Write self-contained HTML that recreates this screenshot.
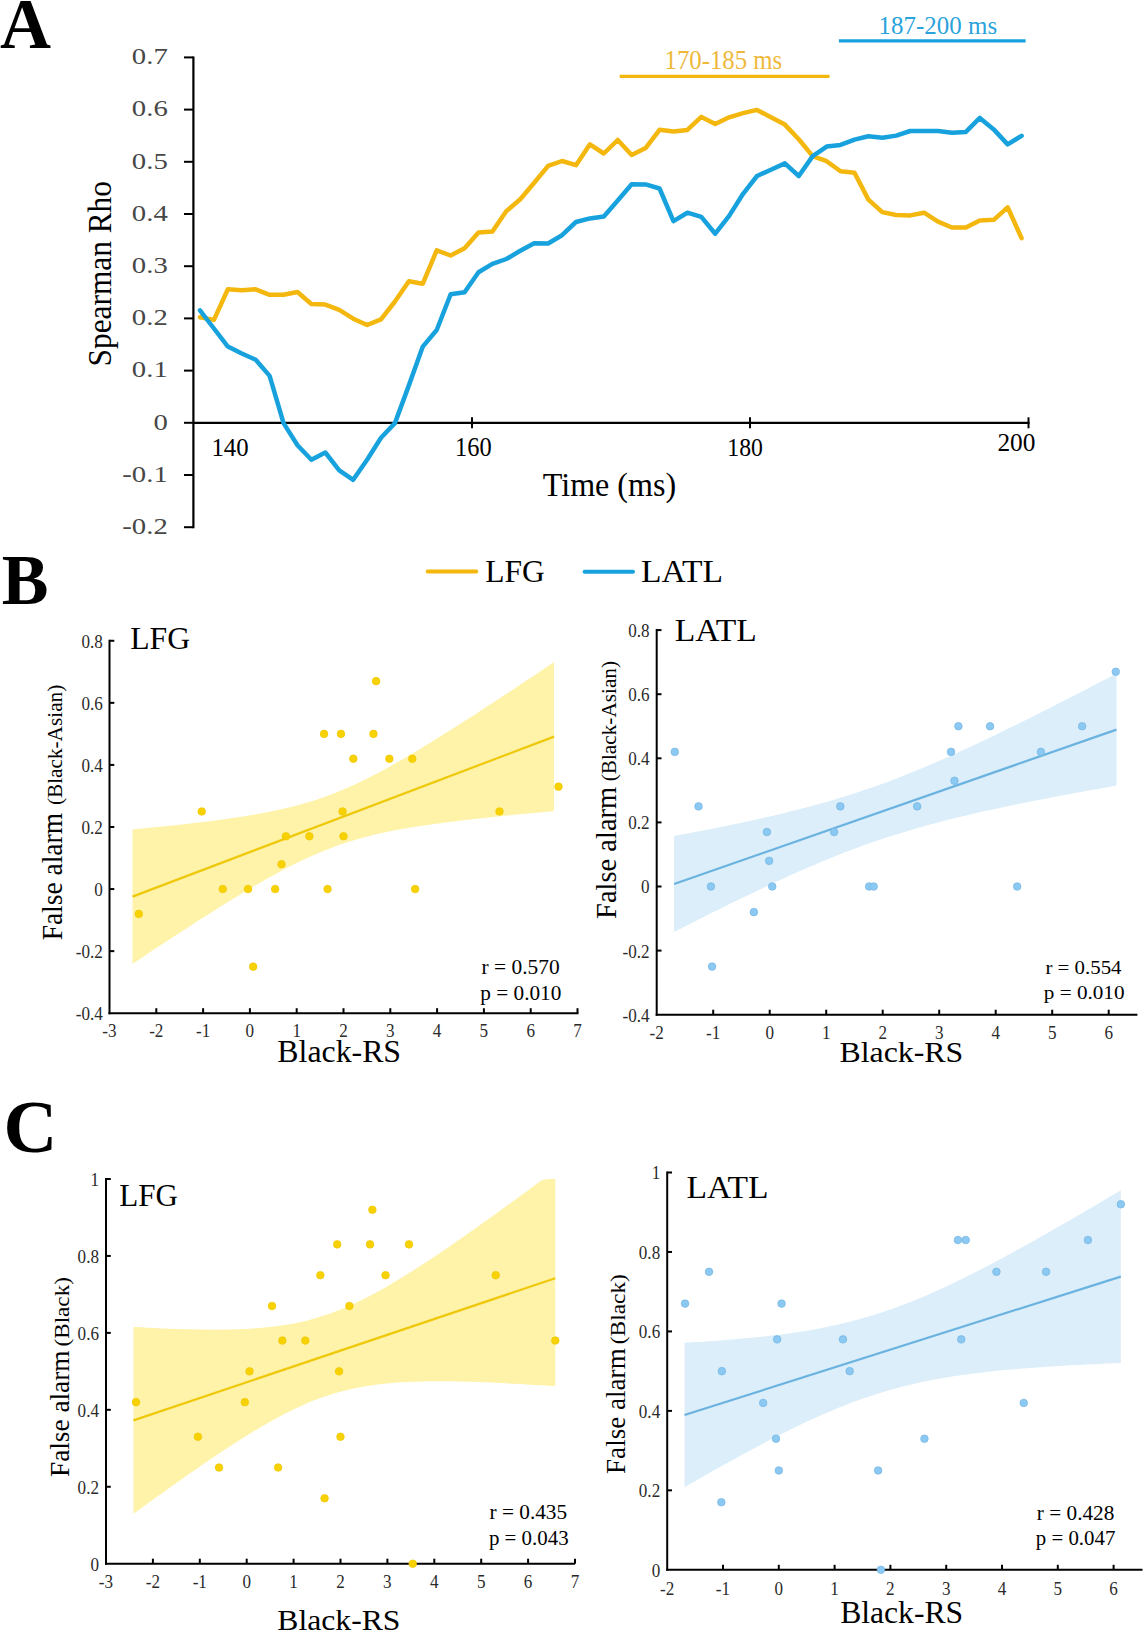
<!DOCTYPE html>
<html><head><meta charset="utf-8"><title>Figure</title>
<style>html,body{margin:0;padding:0;background:#fff;width:1144px;height:1632px;overflow:hidden}
svg{display:block} text{font-family:"Liberation Serif",serif}</style></head>
<body><svg width="1144" height="1632" viewBox="0 0 1144 1632">
<rect width="1144" height="1632" fill="#fff"/>
<text transform="translate(0.09,47.70) scale(0.9877,1)" font-size="71.52" font-weight="bold" fill="#000">A</text>
<line x1="193.40" y1="56.40" x2="193.40" y2="528.20" stroke="#000" stroke-width="2.2" stroke-linecap="butt"/>
<line x1="184.00" y1="527.20" x2="193.40" y2="527.20" stroke="#000" stroke-width="2.0" stroke-linecap="butt"/>
<line x1="184.00" y1="475.00" x2="193.40" y2="475.00" stroke="#000" stroke-width="2.0" stroke-linecap="butt"/>
<line x1="184.00" y1="422.80" x2="193.40" y2="422.80" stroke="#000" stroke-width="2.0" stroke-linecap="butt"/>
<line x1="184.00" y1="370.60" x2="193.40" y2="370.60" stroke="#000" stroke-width="2.0" stroke-linecap="butt"/>
<line x1="184.00" y1="318.40" x2="193.40" y2="318.40" stroke="#000" stroke-width="2.0" stroke-linecap="butt"/>
<line x1="184.00" y1="266.20" x2="193.40" y2="266.20" stroke="#000" stroke-width="2.0" stroke-linecap="butt"/>
<line x1="184.00" y1="214.00" x2="193.40" y2="214.00" stroke="#000" stroke-width="2.0" stroke-linecap="butt"/>
<line x1="184.00" y1="161.80" x2="193.40" y2="161.80" stroke="#000" stroke-width="2.0" stroke-linecap="butt"/>
<line x1="184.00" y1="109.60" x2="193.40" y2="109.60" stroke="#000" stroke-width="2.0" stroke-linecap="butt"/>
<line x1="184.00" y1="57.40" x2="193.40" y2="57.40" stroke="#000" stroke-width="2.0" stroke-linecap="butt"/>
<line x1="193.40" y1="422.80" x2="1029.50" y2="422.80" stroke="#000" stroke-width="2.2" stroke-linecap="butt"/>
<line x1="472.00" y1="417.30" x2="472.00" y2="428.30" stroke="#000" stroke-width="2.0" stroke-linecap="butt"/>
<line x1="750.00" y1="417.30" x2="750.00" y2="428.30" stroke="#000" stroke-width="2.0" stroke-linecap="butt"/>
<line x1="1028.50" y1="417.30" x2="1028.50" y2="428.30" stroke="#000" stroke-width="2.0" stroke-linecap="butt"/>
<text transform="translate(131.84,64.21) scale(1.24,1)" font-size="23.2" fill="#474747">0.7</text>
<text transform="translate(131.84,116.41) scale(1.24,1)" font-size="23.2" fill="#474747">0.6</text>
<text transform="translate(131.84,168.61) scale(1.24,1)" font-size="23.2" fill="#474747">0.5</text>
<text transform="translate(131.84,220.81) scale(1.24,1)" font-size="23.2" fill="#474747">0.4</text>
<text transform="translate(131.84,273.01) scale(1.24,1)" font-size="23.2" fill="#474747">0.3</text>
<text transform="translate(131.84,325.21) scale(1.24,1)" font-size="23.2" fill="#474747">0.2</text>
<text transform="translate(131.84,377.41) scale(1.24,1)" font-size="23.2" fill="#474747">0.1</text>
<text transform="translate(153.42,429.61) scale(1.24,1)" font-size="23.2" fill="#474747">0</text>
<text transform="translate(122.26,481.81) scale(1.24,1)" font-size="23.2" fill="#474747">-0.1</text>
<text transform="translate(122.26,534.01) scale(1.24,1)" font-size="23.2" fill="#474747">-0.2</text>
<text transform="translate(211.43,455.70) scale(0.9701,1)" font-size="25.56" fill="#000">140</text>
<text transform="translate(455.06,455.60) scale(0.9233,1)" font-size="26.47" fill="#000">160</text>
<text transform="translate(727.33,455.60) scale(0.9220,1)" font-size="25.71" fill="#000">180</text>
<text transform="translate(997.42,451.40) scale(0.9689,1)" font-size="26.17" fill="#000">200</text>
<text transform="translate(542.74,495.70) scale(0.9687,1)" font-size="33.13" fill="#000">Time (ms)</text>
<text transform="translate(110.50,366.42) rotate(-90) scale(0.9289,1)" font-size="33.74" fill="#000">Spearman Rho</text>
<line x1="619.70" y1="76.30" x2="829.50" y2="76.30" stroke="#f3b70e" stroke-width="3.2" stroke-linecap="butt"/>
<text transform="translate(664.53,69.30) scale(0.9407,1)" font-size="26.36" fill="#efb83a">170-185 ms</text>
<line x1="838.90" y1="40.90" x2="1025.60" y2="40.90" stroke="#17a2de" stroke-width="3.2" stroke-linecap="butt"/>
<text transform="translate(878.62,34.20) scale(1.0041,1)" font-size="24.85" fill="#2aa3dc">187-200 ms</text>
<polyline points="200.00,317.20 213.93,319.90 227.85,289.30 241.78,290.30 255.70,289.30 269.62,294.80 283.55,294.80 297.48,292.00 311.40,304.00 325.32,304.60 339.25,309.90 353.18,318.70 367.10,325.00 381.02,319.30 394.95,301.50 408.88,281.30 422.80,283.70 436.73,250.30 450.65,255.50 464.57,248.20 478.50,232.40 492.43,231.40 506.35,211.10 520.28,199.30 534.20,182.80 548.12,165.90 562.05,161.00 575.98,165.20 589.90,144.30 603.83,153.50 617.75,140.00 631.67,155.00 645.60,148.10 659.53,129.80 673.45,131.50 687.38,129.90 701.30,116.90 715.23,124.00 729.15,117.30 743.08,113.10 757.00,109.90 770.93,117.30 784.85,124.60 798.77,139.30 812.70,156.10 826.62,161.20 840.55,171.30 854.48,172.70 868.40,199.60 882.33,212.10 896.25,215.00 910.18,215.40 924.10,212.70 938.03,221.70 951.95,227.50 965.88,227.50 979.80,220.40 993.73,219.80 1007.65,207.30 1021.58,238.10" fill="none" stroke="#f3b70e" stroke-width="4.5" stroke-linejoin="round" stroke-linecap="round"/>
<polyline points="200.00,310.30 213.93,328.50 227.85,346.60 241.78,353.50 255.70,359.80 269.62,375.90 283.55,423.10 297.48,445.20 311.40,459.80 325.32,452.50 339.25,470.30 353.18,479.80 367.10,459.80 381.02,437.80 394.95,423.10 408.88,385.40 422.80,346.60 436.73,330.00 450.65,294.30 464.57,292.20 478.50,272.30 492.43,263.90 506.35,259.00 520.28,250.80 534.20,243.20 548.12,243.50 562.05,235.20 575.98,222.00 589.90,218.40 603.83,216.50 617.75,200.60 631.67,184.30 645.60,184.40 659.53,188.50 673.45,221.10 687.38,212.70 701.30,216.90 715.23,233.70 729.15,215.90 743.08,193.80 757.00,176.00 770.93,169.70 784.85,163.40 798.77,176.00 812.70,156.10 826.62,146.60 840.55,144.90 854.48,139.60 868.40,136.20 882.33,137.70 896.25,135.60 910.18,131.00 924.10,131.00 938.03,131.00 951.95,132.70 965.88,131.90 979.80,117.90 993.73,129.40 1007.65,144.40 1021.58,135.80" fill="none" stroke="#17a2de" stroke-width="4.5" stroke-linejoin="round" stroke-linecap="round"/>
<line x1="427.70" y1="571.60" x2="476.20" y2="571.60" stroke="#f3b70e" stroke-width="4" stroke-linecap="round"/>
<text transform="translate(485.13,581.50) scale(0.9947,1)" font-size="31.70" fill="#000">LFG</text>
<line x1="584.60" y1="571.70" x2="633.00" y2="571.70" stroke="#17a2de" stroke-width="4" stroke-linecap="round"/>
<text transform="translate(641.08,581.50) scale(1.0543,1)" font-size="31.82" fill="#000">LATL</text>
<text transform="translate(1.87,603.50) scale(0.9782,1)" font-size="71.60" font-weight="bold" fill="#000">B</text>
<line x1="109.50" y1="639.78" x2="109.50" y2="1014.20" stroke="#000" stroke-width="2.0" stroke-linecap="butt"/>
<line x1="108.50" y1="1013.20" x2="578.50" y2="1013.20" stroke="#000" stroke-width="2.0" stroke-linecap="butt"/>
<line x1="109.50" y1="951.13" x2="114.30" y2="951.13" stroke="#000" stroke-width="2.0" stroke-linecap="butt"/>
<line x1="109.50" y1="889.06" x2="114.30" y2="889.06" stroke="#000" stroke-width="2.0" stroke-linecap="butt"/>
<line x1="109.50" y1="826.99" x2="114.30" y2="826.99" stroke="#000" stroke-width="2.0" stroke-linecap="butt"/>
<line x1="109.50" y1="764.92" x2="114.30" y2="764.92" stroke="#000" stroke-width="2.0" stroke-linecap="butt"/>
<line x1="109.50" y1="702.85" x2="114.30" y2="702.85" stroke="#000" stroke-width="2.0" stroke-linecap="butt"/>
<line x1="109.50" y1="640.78" x2="114.30" y2="640.78" stroke="#000" stroke-width="2.0" stroke-linecap="butt"/>
<line x1="156.30" y1="1013.20" x2="156.30" y2="1008.20" stroke="#000" stroke-width="2.0" stroke-linecap="butt"/>
<line x1="203.10" y1="1013.20" x2="203.10" y2="1008.20" stroke="#000" stroke-width="2.0" stroke-linecap="butt"/>
<line x1="249.90" y1="1013.20" x2="249.90" y2="1008.20" stroke="#000" stroke-width="2.0" stroke-linecap="butt"/>
<line x1="296.70" y1="1013.20" x2="296.70" y2="1008.20" stroke="#000" stroke-width="2.0" stroke-linecap="butt"/>
<line x1="343.50" y1="1013.20" x2="343.50" y2="1008.20" stroke="#000" stroke-width="2.0" stroke-linecap="butt"/>
<line x1="390.30" y1="1013.20" x2="390.30" y2="1008.20" stroke="#000" stroke-width="2.0" stroke-linecap="butt"/>
<line x1="437.10" y1="1013.20" x2="437.10" y2="1008.20" stroke="#000" stroke-width="2.0" stroke-linecap="butt"/>
<line x1="483.90" y1="1013.20" x2="483.90" y2="1008.20" stroke="#000" stroke-width="2.0" stroke-linecap="butt"/>
<line x1="530.70" y1="1013.20" x2="530.70" y2="1008.20" stroke="#000" stroke-width="2.0" stroke-linecap="butt"/>
<line x1="577.50" y1="1013.20" x2="577.50" y2="1008.20" stroke="#000" stroke-width="2.0" stroke-linecap="butt"/>
<path d="M132.50,829.40 L139.53,828.74 L146.55,828.06 L153.58,827.37 L160.61,826.66 L167.63,825.94 L174.66,825.20 L181.69,824.44 L188.71,823.65 L195.74,822.85 L202.77,822.01 L209.79,821.15 L216.82,820.24 L223.85,819.30 L230.87,818.32 L237.90,817.28 L244.93,816.19 L251.95,815.04 L258.98,813.81 L266.01,812.51 L273.03,811.11 L280.06,809.61 L287.09,807.99 L294.11,806.25 L301.14,804.37 L308.17,802.33 L315.19,800.14 L322.22,797.77 L329.25,795.23 L336.27,792.51 L343.30,789.61 L350.33,786.53 L357.35,783.30 L364.38,779.90 L371.41,776.36 L378.43,772.69 L385.46,768.90 L392.49,765.01 L399.51,761.01 L406.54,756.94 L413.57,752.78 L420.59,748.57 L427.62,744.29 L434.65,739.96 L441.67,735.58 L448.70,731.16 L455.73,726.71 L462.75,722.22 L469.78,717.71 L476.81,713.17 L483.83,708.60 L490.86,704.02 L497.89,699.41 L504.91,694.79 L511.94,690.15 L518.97,685.50 L525.99,680.84 L533.02,676.16 L540.05,671.48 L547.07,666.78 L554.10,662.08 L554.10,811.12 L547.07,811.75 L540.05,812.39 L533.02,813.04 L525.99,813.69 L518.97,814.36 L511.94,815.05 L504.91,815.74 L497.89,816.45 L490.86,817.18 L483.83,817.93 L476.81,818.70 L469.78,819.49 L462.75,820.31 L455.73,821.16 L448.70,822.04 L441.67,822.95 L434.65,823.91 L427.62,824.91 L420.59,825.97 L413.57,827.08 L406.54,828.26 L399.51,829.52 L392.49,830.86 L385.46,832.30 L378.43,833.84 L371.41,835.50 L364.38,837.30 L357.35,839.24 L350.33,841.33 L343.30,843.59 L336.27,846.03 L329.25,848.64 L322.22,851.43 L315.19,854.40 L308.17,857.53 L301.14,860.83 L294.11,864.28 L287.09,867.87 L280.06,871.59 L273.03,875.42 L266.01,879.36 L258.98,883.39 L251.95,887.49 L244.93,891.67 L237.90,895.92 L230.87,900.21 L223.85,904.56 L216.82,908.96 L209.79,913.39 L202.77,917.85 L195.74,922.35 L188.71,926.88 L181.69,931.43 L174.66,936.00 L167.63,940.59 L160.61,945.21 L153.58,949.83 L146.55,954.48 L139.53,959.13 L132.50,963.80Z" fill="#fef3a8"/>
<line x1="132.50" y1="896.60" x2="554.10" y2="736.60" stroke="#efc80a" stroke-width="2.2" stroke-linecap="butt"/>
<circle cx="138.80" cy="913.89" r="3.8" fill="#f8d200" stroke="#efc600" stroke-width="0.7"/>
<circle cx="201.70" cy="811.47" r="3.8" fill="#f8d200" stroke="#efc600" stroke-width="0.7"/>
<circle cx="222.76" cy="889.06" r="3.8" fill="#f8d200" stroke="#efc600" stroke-width="0.7"/>
<circle cx="248.03" cy="889.06" r="3.8" fill="#f8d200" stroke="#efc600" stroke-width="0.7"/>
<circle cx="275.17" cy="889.06" r="3.8" fill="#f8d200" stroke="#efc600" stroke-width="0.7"/>
<circle cx="327.59" cy="889.06" r="3.8" fill="#f8d200" stroke="#efc600" stroke-width="0.7"/>
<circle cx="415.10" cy="889.06" r="3.8" fill="#f8d200" stroke="#efc600" stroke-width="0.7"/>
<circle cx="253.18" cy="966.65" r="3.8" fill="#f8d200" stroke="#efc600" stroke-width="0.7"/>
<circle cx="281.49" cy="864.23" r="3.8" fill="#f8d200" stroke="#efc600" stroke-width="0.7"/>
<circle cx="285.94" cy="836.30" r="3.8" fill="#f8d200" stroke="#efc600" stroke-width="0.7"/>
<circle cx="309.34" cy="836.30" r="3.8" fill="#f8d200" stroke="#efc600" stroke-width="0.7"/>
<circle cx="343.50" cy="836.30" r="3.8" fill="#f8d200" stroke="#efc600" stroke-width="0.7"/>
<circle cx="342.56" cy="811.47" r="3.8" fill="#f8d200" stroke="#efc600" stroke-width="0.7"/>
<circle cx="324.08" cy="733.88" r="3.8" fill="#f8d200" stroke="#efc600" stroke-width="0.7"/>
<circle cx="340.97" cy="733.88" r="3.8" fill="#f8d200" stroke="#efc600" stroke-width="0.7"/>
<circle cx="373.45" cy="733.88" r="3.8" fill="#f8d200" stroke="#efc600" stroke-width="0.7"/>
<circle cx="376.12" cy="681.13" r="3.8" fill="#f8d200" stroke="#efc600" stroke-width="0.7"/>
<circle cx="353.33" cy="758.71" r="3.8" fill="#f8d200" stroke="#efc600" stroke-width="0.7"/>
<circle cx="389.36" cy="758.71" r="3.8" fill="#f8d200" stroke="#efc600" stroke-width="0.7"/>
<circle cx="412.30" cy="758.71" r="3.8" fill="#f8d200" stroke="#efc600" stroke-width="0.7"/>
<circle cx="558.50" cy="786.64" r="3.8" fill="#f8d200" stroke="#efc600" stroke-width="0.7"/>
<circle cx="499.48" cy="811.47" r="3.8" fill="#f8d200" stroke="#efc600" stroke-width="0.7"/>
<text transform="translate(75.71,1020.12) scale(0.93,1)" font-size="18.4" fill="#2a2a2a">-0.4</text>
<text transform="translate(75.71,958.05) scale(0.93,1)" font-size="18.4" fill="#2a2a2a">-0.2</text>
<text transform="translate(94.24,895.98) scale(0.93,1)" font-size="18.4" fill="#2a2a2a">0</text>
<text transform="translate(81.41,833.91) scale(0.93,1)" font-size="18.4" fill="#2a2a2a">0.2</text>
<text transform="translate(81.41,771.84) scale(0.93,1)" font-size="18.4" fill="#2a2a2a">0.4</text>
<text transform="translate(81.41,709.77) scale(0.93,1)" font-size="18.4" fill="#2a2a2a">0.6</text>
<text transform="translate(81.41,647.70) scale(0.93,1)" font-size="18.4" fill="#2a2a2a">0.8</text>
<text transform="translate(102.37,1037.00) scale(0.93,1)" font-size="18.4" fill="#2a2a2a">-3</text>
<text transform="translate(149.17,1037.00) scale(0.93,1)" font-size="18.4" fill="#2a2a2a">-2</text>
<text transform="translate(195.97,1037.00) scale(0.93,1)" font-size="18.4" fill="#2a2a2a">-1</text>
<text transform="translate(245.62,1037.00) scale(0.93,1)" font-size="18.4" fill="#2a2a2a">0</text>
<text transform="translate(292.42,1037.00) scale(0.93,1)" font-size="18.4" fill="#2a2a2a">1</text>
<text transform="translate(339.22,1037.00) scale(0.93,1)" font-size="18.4" fill="#2a2a2a">2</text>
<text transform="translate(386.02,1037.00) scale(0.93,1)" font-size="18.4" fill="#2a2a2a">3</text>
<text transform="translate(432.82,1037.00) scale(0.93,1)" font-size="18.4" fill="#2a2a2a">4</text>
<text transform="translate(479.62,1037.00) scale(0.93,1)" font-size="18.4" fill="#2a2a2a">5</text>
<text transform="translate(526.42,1037.00) scale(0.93,1)" font-size="18.4" fill="#2a2a2a">6</text>
<text transform="translate(573.22,1037.00) scale(0.93,1)" font-size="18.4" fill="#2a2a2a">7</text>
<text transform="translate(130.13,649.40) scale(1.0112,1)" font-size="31.40" fill="#000">LFG</text>
<text transform="translate(481.57,974.30) scale(1.0175,1)" font-size="21.05" fill="#000">r = 0.570</text>
<text transform="translate(480.28,999.90) scale(1.0321,1)" font-size="20.60" fill="#000">p = 0.010</text>
<text transform="translate(277.32,1061.50) scale(1.0198,1)" font-size="31.22" fill="#000">Black-RS</text>
<text transform="translate(61.80,940.36) rotate(-90) scale(0.9377,1)" font-size="29.31" fill="#000">False alarm</text>
<text transform="translate(61.80,805.10) rotate(-90) scale(1.0368,1)" font-size="20.50" fill="#000">(Black-Asian)</text>
<line x1="656.70" y1="629.10" x2="656.70" y2="1015.70" stroke="#000" stroke-width="2.0" stroke-linecap="butt"/>
<line x1="655.70" y1="1014.70" x2="1137.40" y2="1014.70" stroke="#000" stroke-width="2.0" stroke-linecap="butt"/>
<line x1="656.70" y1="950.60" x2="661.50" y2="950.60" stroke="#000" stroke-width="2.0" stroke-linecap="butt"/>
<line x1="656.70" y1="886.50" x2="661.50" y2="886.50" stroke="#000" stroke-width="2.0" stroke-linecap="butt"/>
<line x1="656.70" y1="822.40" x2="661.50" y2="822.40" stroke="#000" stroke-width="2.0" stroke-linecap="butt"/>
<line x1="656.70" y1="758.30" x2="661.50" y2="758.30" stroke="#000" stroke-width="2.0" stroke-linecap="butt"/>
<line x1="656.70" y1="694.20" x2="661.50" y2="694.20" stroke="#000" stroke-width="2.0" stroke-linecap="butt"/>
<line x1="656.70" y1="630.10" x2="661.50" y2="630.10" stroke="#000" stroke-width="2.0" stroke-linecap="butt"/>
<line x1="713.20" y1="1014.70" x2="713.20" y2="1009.70" stroke="#000" stroke-width="2.0" stroke-linecap="butt"/>
<line x1="769.70" y1="1014.70" x2="769.70" y2="1009.70" stroke="#000" stroke-width="2.0" stroke-linecap="butt"/>
<line x1="826.20" y1="1014.70" x2="826.20" y2="1009.70" stroke="#000" stroke-width="2.0" stroke-linecap="butt"/>
<line x1="882.70" y1="1014.70" x2="882.70" y2="1009.70" stroke="#000" stroke-width="2.0" stroke-linecap="butt"/>
<line x1="939.20" y1="1014.70" x2="939.20" y2="1009.70" stroke="#000" stroke-width="2.0" stroke-linecap="butt"/>
<line x1="995.70" y1="1014.70" x2="995.70" y2="1009.70" stroke="#000" stroke-width="2.0" stroke-linecap="butt"/>
<line x1="1052.20" y1="1014.70" x2="1052.20" y2="1009.70" stroke="#000" stroke-width="2.0" stroke-linecap="butt"/>
<line x1="1108.70" y1="1014.70" x2="1108.70" y2="1009.70" stroke="#000" stroke-width="2.0" stroke-linecap="butt"/>
<path d="M674.10,835.99 L681.47,834.62 L688.85,833.23 L696.22,831.82 L703.59,830.39 L710.97,828.94 L718.34,827.47 L725.71,825.98 L733.09,824.46 L740.46,822.91 L747.83,821.33 L755.21,819.72 L762.58,818.08 L769.95,816.40 L777.33,814.67 L784.70,812.91 L792.07,811.09 L799.45,809.23 L806.82,807.31 L814.19,805.33 L821.57,803.29 L828.94,801.18 L836.31,799.01 L843.69,796.76 L851.06,794.44 L858.43,792.05 L865.81,789.57 L873.18,787.02 L880.55,784.39 L887.93,781.69 L895.30,778.90 L902.67,776.04 L910.05,773.11 L917.42,770.11 L924.79,767.04 L932.17,763.91 L939.54,760.71 L946.91,757.46 L954.29,754.16 L961.66,750.81 L969.03,747.41 L976.41,743.97 L983.78,740.49 L991.15,736.97 L998.53,733.42 L1005.90,729.83 L1013.27,726.22 L1020.65,722.58 L1028.02,718.92 L1035.39,715.23 L1042.77,711.53 L1050.14,707.80 L1057.51,704.05 L1064.89,700.29 L1072.26,696.52 L1079.63,692.73 L1087.01,688.92 L1094.38,685.11 L1101.75,681.28 L1109.13,677.44 L1116.50,673.59 L1116.50,785.61 L1109.13,786.91 L1101.75,788.22 L1094.38,789.53 L1087.01,790.86 L1079.63,792.21 L1072.26,793.56 L1064.89,794.93 L1057.51,796.32 L1050.14,797.72 L1042.77,799.14 L1035.39,800.58 L1028.02,802.04 L1020.65,803.52 L1013.27,805.03 L1005.90,806.57 L998.53,808.13 L991.15,809.73 L983.78,811.35 L976.41,813.02 L969.03,814.72 L961.66,816.47 L954.29,818.27 L946.91,820.11 L939.54,822.01 L932.17,823.96 L924.79,825.97 L917.42,828.05 L910.05,830.20 L902.67,832.41 L895.30,834.70 L887.93,837.06 L880.55,839.50 L873.18,842.02 L865.81,844.61 L858.43,847.29 L851.06,850.04 L843.69,852.87 L836.31,855.77 L828.94,858.74 L821.57,861.78 L814.19,864.89 L806.82,868.05 L799.45,871.28 L792.07,874.56 L784.70,877.89 L777.33,881.27 L769.95,884.70 L762.58,888.16 L755.21,891.66 L747.83,895.20 L740.46,898.77 L733.09,902.37 L725.71,906.00 L718.34,909.65 L710.97,913.33 L703.59,917.03 L696.22,920.74 L688.85,924.48 L681.47,928.24 L674.10,932.01Z" fill="#dbeefa"/>
<line x1="674.10" y1="884.00" x2="1116.50" y2="729.60" stroke="#6ab2e0" stroke-width="2.2" stroke-linecap="butt"/>
<circle cx="674.78" cy="751.89" r="3.8" fill="#8bc9f2" stroke="#74b4e2" stroke-width="0.7"/>
<circle cx="698.51" cy="806.38" r="3.8" fill="#8bc9f2" stroke="#74b4e2" stroke-width="0.7"/>
<circle cx="766.88" cy="832.01" r="3.8" fill="#8bc9f2" stroke="#74b4e2" stroke-width="0.7"/>
<circle cx="840.33" cy="806.38" r="3.8" fill="#8bc9f2" stroke="#74b4e2" stroke-width="0.7"/>
<circle cx="834.11" cy="832.01" r="3.8" fill="#8bc9f2" stroke="#74b4e2" stroke-width="0.7"/>
<circle cx="1115.76" cy="671.77" r="3.8" fill="#8bc9f2" stroke="#74b4e2" stroke-width="0.7"/>
<circle cx="958.41" cy="726.25" r="3.8" fill="#8bc9f2" stroke="#74b4e2" stroke-width="0.7"/>
<circle cx="990.05" cy="726.25" r="3.8" fill="#8bc9f2" stroke="#74b4e2" stroke-width="0.7"/>
<circle cx="1082.14" cy="726.25" r="3.8" fill="#8bc9f2" stroke="#74b4e2" stroke-width="0.7"/>
<circle cx="951.07" cy="751.89" r="3.8" fill="#8bc9f2" stroke="#74b4e2" stroke-width="0.7"/>
<circle cx="1040.90" cy="751.89" r="3.8" fill="#8bc9f2" stroke="#74b4e2" stroke-width="0.7"/>
<circle cx="954.46" cy="780.74" r="3.8" fill="#8bc9f2" stroke="#74b4e2" stroke-width="0.7"/>
<circle cx="917.16" cy="806.38" r="3.8" fill="#8bc9f2" stroke="#74b4e2" stroke-width="0.7"/>
<circle cx="769.13" cy="860.86" r="3.8" fill="#8bc9f2" stroke="#74b4e2" stroke-width="0.7"/>
<circle cx="710.94" cy="886.50" r="3.8" fill="#8bc9f2" stroke="#74b4e2" stroke-width="0.7"/>
<circle cx="772.24" cy="886.50" r="3.8" fill="#8bc9f2" stroke="#74b4e2" stroke-width="0.7"/>
<circle cx="869.14" cy="886.50" r="3.8" fill="#8bc9f2" stroke="#74b4e2" stroke-width="0.7"/>
<circle cx="873.66" cy="886.50" r="3.8" fill="#8bc9f2" stroke="#74b4e2" stroke-width="0.7"/>
<circle cx="753.88" cy="912.14" r="3.8" fill="#8bc9f2" stroke="#74b4e2" stroke-width="0.7"/>
<circle cx="712.07" cy="966.62" r="3.8" fill="#8bc9f2" stroke="#74b4e2" stroke-width="0.7"/>
<circle cx="1017.17" cy="886.50" r="3.8" fill="#8bc9f2" stroke="#74b4e2" stroke-width="0.7"/>
<text transform="translate(622.51,1021.62) scale(0.93,1)" font-size="18.4" fill="#2a2a2a">-0.4</text>
<text transform="translate(622.51,957.52) scale(0.93,1)" font-size="18.4" fill="#2a2a2a">-0.2</text>
<text transform="translate(641.04,893.42) scale(0.93,1)" font-size="18.4" fill="#2a2a2a">0</text>
<text transform="translate(628.21,829.32) scale(0.93,1)" font-size="18.4" fill="#2a2a2a">0.2</text>
<text transform="translate(628.21,765.22) scale(0.93,1)" font-size="18.4" fill="#2a2a2a">0.4</text>
<text transform="translate(628.21,701.12) scale(0.93,1)" font-size="18.4" fill="#2a2a2a">0.6</text>
<text transform="translate(628.21,637.02) scale(0.93,1)" font-size="18.4" fill="#2a2a2a">0.8</text>
<text transform="translate(649.57,1038.80) scale(0.93,1)" font-size="18.4" fill="#2a2a2a">-2</text>
<text transform="translate(706.07,1038.80) scale(0.93,1)" font-size="18.4" fill="#2a2a2a">-1</text>
<text transform="translate(765.42,1038.80) scale(0.93,1)" font-size="18.4" fill="#2a2a2a">0</text>
<text transform="translate(821.92,1038.80) scale(0.93,1)" font-size="18.4" fill="#2a2a2a">1</text>
<text transform="translate(878.42,1038.80) scale(0.93,1)" font-size="18.4" fill="#2a2a2a">2</text>
<text transform="translate(934.92,1038.80) scale(0.93,1)" font-size="18.4" fill="#2a2a2a">3</text>
<text transform="translate(991.42,1038.80) scale(0.93,1)" font-size="18.4" fill="#2a2a2a">4</text>
<text transform="translate(1047.92,1038.80) scale(0.93,1)" font-size="18.4" fill="#2a2a2a">5</text>
<text transform="translate(1104.42,1038.80) scale(0.93,1)" font-size="18.4" fill="#2a2a2a">6</text>
<text transform="translate(674.78,640.90) scale(1.0920,1)" font-size="30.76" fill="#000">LATL</text>
<text transform="translate(1045.38,973.90) scale(1.1679,1)" font-size="17.89" fill="#000">r = 0.554</text>
<text transform="translate(1043.78,999.40) scale(1.1005,1)" font-size="19.25" fill="#000">p = 0.010</text>
<text transform="translate(839.42,1061.50) scale(1.0538,1)" font-size="30.22" fill="#000">Black-RS</text>
<text transform="translate(616.40,918.88) rotate(-90) scale(0.9873,1)" font-size="28.85" fill="#000">False alarm</text>
<text transform="translate(616.40,781.30) rotate(-90) scale(1.0368,1)" font-size="20.50" fill="#000">(Black-Asian)</text>
<text transform="translate(3.56,1151.60) scale(1.0132,1)" font-size="73.51" font-weight="bold" fill="#000">C</text>
<line x1="106.00" y1="1178.00" x2="106.00" y2="1564.70" stroke="#000" stroke-width="2.0" stroke-linecap="butt"/>
<line x1="105.00" y1="1563.70" x2="575.00" y2="1563.70" stroke="#000" stroke-width="2.0" stroke-linecap="butt"/>
<line x1="106.00" y1="1486.76" x2="110.80" y2="1486.76" stroke="#000" stroke-width="2.0" stroke-linecap="butt"/>
<line x1="106.00" y1="1409.82" x2="110.80" y2="1409.82" stroke="#000" stroke-width="2.0" stroke-linecap="butt"/>
<line x1="106.00" y1="1332.88" x2="110.80" y2="1332.88" stroke="#000" stroke-width="2.0" stroke-linecap="butt"/>
<line x1="106.00" y1="1255.94" x2="110.80" y2="1255.94" stroke="#000" stroke-width="2.0" stroke-linecap="butt"/>
<line x1="106.00" y1="1179.00" x2="110.80" y2="1179.00" stroke="#000" stroke-width="2.0" stroke-linecap="butt"/>
<line x1="152.90" y1="1563.70" x2="152.90" y2="1558.70" stroke="#000" stroke-width="2.0" stroke-linecap="butt"/>
<line x1="199.80" y1="1563.70" x2="199.80" y2="1558.70" stroke="#000" stroke-width="2.0" stroke-linecap="butt"/>
<line x1="246.70" y1="1563.70" x2="246.70" y2="1558.70" stroke="#000" stroke-width="2.0" stroke-linecap="butt"/>
<line x1="293.60" y1="1563.70" x2="293.60" y2="1558.70" stroke="#000" stroke-width="2.0" stroke-linecap="butt"/>
<line x1="340.50" y1="1563.70" x2="340.50" y2="1558.70" stroke="#000" stroke-width="2.0" stroke-linecap="butt"/>
<line x1="387.40" y1="1563.70" x2="387.40" y2="1558.70" stroke="#000" stroke-width="2.0" stroke-linecap="butt"/>
<line x1="434.30" y1="1563.70" x2="434.30" y2="1558.70" stroke="#000" stroke-width="2.0" stroke-linecap="butt"/>
<line x1="481.20" y1="1563.70" x2="481.20" y2="1558.70" stroke="#000" stroke-width="2.0" stroke-linecap="butt"/>
<line x1="528.10" y1="1563.70" x2="528.10" y2="1558.70" stroke="#000" stroke-width="2.0" stroke-linecap="butt"/>
<line x1="575.00" y1="1563.70" x2="575.00" y2="1558.70" stroke="#000" stroke-width="2.0" stroke-linecap="butt"/>
<path d="M133.50,1326.97 L140.53,1327.35 L147.56,1327.72 L154.59,1328.06 L161.62,1328.38 L168.65,1328.68 L175.68,1328.94 L182.71,1329.16 L189.74,1329.35 L196.77,1329.50 L203.80,1329.60 L210.83,1329.66 L217.86,1329.65 L224.89,1329.58 L231.92,1329.43 L238.95,1329.21 L245.98,1328.90 L253.01,1328.48 L260.04,1327.96 L267.07,1327.30 L274.10,1326.51 L281.13,1325.56 L288.16,1324.44 L295.19,1323.14 L302.22,1321.64 L309.25,1319.93 L316.28,1317.99 L323.31,1315.83 L330.34,1313.44 L337.37,1310.81 L344.40,1307.96 L351.43,1304.89 L358.46,1301.61 L365.49,1298.13 L372.52,1294.47 L379.55,1290.65 L386.58,1286.67 L393.61,1282.56 L400.64,1278.32 L407.67,1273.97 L414.70,1269.53 L421.73,1264.99 L428.76,1260.38 L435.79,1255.70 L442.82,1250.95 L449.85,1246.15 L456.88,1241.30 L463.91,1236.40 L470.94,1231.46 L477.97,1226.49 L485.00,1221.48 L492.03,1216.44 L499.06,1211.38 L506.09,1206.29 L513.12,1201.18 L520.15,1196.04 L527.18,1190.89 L534.21,1185.73 L541.24,1180.54 L548.27,1179.00 L555.30,1179.00 L555.30,1386.27 L548.27,1385.80 L541.24,1385.34 L534.21,1384.89 L527.18,1384.47 L520.15,1384.06 L513.12,1383.66 L506.09,1383.29 L499.06,1382.94 L492.03,1382.62 L485.00,1382.32 L477.97,1382.05 L470.94,1381.82 L463.91,1381.62 L456.88,1381.46 L449.85,1381.35 L442.82,1381.29 L435.79,1381.28 L428.76,1381.34 L421.73,1381.47 L414.70,1381.67 L407.67,1381.97 L400.64,1382.36 L393.61,1382.86 L386.58,1383.49 L379.55,1384.25 L372.52,1385.17 L365.49,1386.25 L358.46,1387.51 L351.43,1388.97 L344.40,1390.64 L337.37,1392.53 L330.34,1394.64 L323.31,1396.99 L316.28,1399.57 L309.25,1402.37 L302.22,1405.40 L295.19,1408.64 L288.16,1412.08 L281.13,1415.70 L274.10,1419.49 L267.07,1423.44 L260.04,1427.52 L253.01,1431.74 L245.98,1436.06 L238.95,1440.49 L231.92,1445.01 L224.89,1449.60 L217.86,1454.27 L210.83,1459.00 L203.80,1463.80 L196.77,1468.64 L189.74,1473.53 L182.71,1478.46 L175.68,1483.42 L168.65,1488.42 L161.62,1493.46 L154.59,1498.52 L147.56,1503.60 L140.53,1508.71 L133.50,1513.83Z" fill="#fef3a8"/>
<line x1="133.50" y1="1420.40" x2="555.30" y2="1278.20" stroke="#efc80a" stroke-width="2.2" stroke-linecap="butt"/>
<circle cx="337.22" cy="1244.40" r="3.8" fill="#f8d200" stroke="#efc600" stroke-width="0.7"/>
<circle cx="320.33" cy="1275.18" r="3.8" fill="#f8d200" stroke="#efc600" stroke-width="0.7"/>
<circle cx="272.03" cy="1305.95" r="3.8" fill="#f8d200" stroke="#efc600" stroke-width="0.7"/>
<circle cx="282.34" cy="1340.57" r="3.8" fill="#f8d200" stroke="#efc600" stroke-width="0.7"/>
<circle cx="305.32" cy="1340.57" r="3.8" fill="#f8d200" stroke="#efc600" stroke-width="0.7"/>
<circle cx="249.51" cy="1371.35" r="3.8" fill="#f8d200" stroke="#efc600" stroke-width="0.7"/>
<circle cx="339.09" cy="1371.35" r="3.8" fill="#f8d200" stroke="#efc600" stroke-width="0.7"/>
<circle cx="372.39" cy="1209.78" r="3.8" fill="#f8d200" stroke="#efc600" stroke-width="0.7"/>
<circle cx="370.05" cy="1244.40" r="3.8" fill="#f8d200" stroke="#efc600" stroke-width="0.7"/>
<circle cx="408.97" cy="1244.40" r="3.8" fill="#f8d200" stroke="#efc600" stroke-width="0.7"/>
<circle cx="385.52" cy="1275.18" r="3.8" fill="#f8d200" stroke="#efc600" stroke-width="0.7"/>
<circle cx="495.74" cy="1275.18" r="3.8" fill="#f8d200" stroke="#efc600" stroke-width="0.7"/>
<circle cx="349.41" cy="1305.95" r="3.8" fill="#f8d200" stroke="#efc600" stroke-width="0.7"/>
<circle cx="555.30" cy="1340.57" r="3.8" fill="#f8d200" stroke="#efc600" stroke-width="0.7"/>
<circle cx="136.02" cy="1402.13" r="3.8" fill="#f8d200" stroke="#efc600" stroke-width="0.7"/>
<circle cx="244.82" cy="1402.13" r="3.8" fill="#f8d200" stroke="#efc600" stroke-width="0.7"/>
<circle cx="197.92" cy="1436.75" r="3.8" fill="#f8d200" stroke="#efc600" stroke-width="0.7"/>
<circle cx="340.50" cy="1436.75" r="3.8" fill="#f8d200" stroke="#efc600" stroke-width="0.7"/>
<circle cx="219.03" cy="1467.53" r="3.8" fill="#f8d200" stroke="#efc600" stroke-width="0.7"/>
<circle cx="278.12" cy="1467.53" r="3.8" fill="#f8d200" stroke="#efc600" stroke-width="0.7"/>
<circle cx="324.55" cy="1498.30" r="3.8" fill="#f8d200" stroke="#efc600" stroke-width="0.7"/>
<circle cx="412.73" cy="1563.70" r="3.8" fill="#f8d200" stroke="#efc600" stroke-width="0.7"/>
<text transform="translate(90.44,1570.62) scale(0.93,1)" font-size="18.4" fill="#2a2a2a">0</text>
<text transform="translate(77.61,1493.68) scale(0.93,1)" font-size="18.4" fill="#2a2a2a">0.2</text>
<text transform="translate(77.61,1416.74) scale(0.93,1)" font-size="18.4" fill="#2a2a2a">0.4</text>
<text transform="translate(77.61,1339.80) scale(0.93,1)" font-size="18.4" fill="#2a2a2a">0.6</text>
<text transform="translate(77.61,1262.86) scale(0.93,1)" font-size="18.4" fill="#2a2a2a">0.8</text>
<text transform="translate(90.44,1185.92) scale(0.93,1)" font-size="18.4" fill="#2a2a2a">1</text>
<text transform="translate(98.87,1587.90) scale(0.93,1)" font-size="18.4" fill="#2a2a2a">-3</text>
<text transform="translate(145.77,1587.90) scale(0.93,1)" font-size="18.4" fill="#2a2a2a">-2</text>
<text transform="translate(192.67,1587.90) scale(0.93,1)" font-size="18.4" fill="#2a2a2a">-1</text>
<text transform="translate(242.42,1587.90) scale(0.93,1)" font-size="18.4" fill="#2a2a2a">0</text>
<text transform="translate(289.32,1587.90) scale(0.93,1)" font-size="18.4" fill="#2a2a2a">1</text>
<text transform="translate(336.22,1587.90) scale(0.93,1)" font-size="18.4" fill="#2a2a2a">2</text>
<text transform="translate(383.12,1587.90) scale(0.93,1)" font-size="18.4" fill="#2a2a2a">3</text>
<text transform="translate(430.02,1587.90) scale(0.93,1)" font-size="18.4" fill="#2a2a2a">4</text>
<text transform="translate(476.92,1587.90) scale(0.93,1)" font-size="18.4" fill="#2a2a2a">5</text>
<text transform="translate(523.82,1587.90) scale(0.93,1)" font-size="18.4" fill="#2a2a2a">6</text>
<text transform="translate(570.72,1587.90) scale(0.93,1)" font-size="18.4" fill="#2a2a2a">7</text>
<text transform="translate(119.14,1206.30) scale(0.9717,1)" font-size="32.00" fill="#000">LFG</text>
<text transform="translate(489.57,1519.30) scale(1.0031,1)" font-size="21.20" fill="#000">r = 0.435</text>
<text transform="translate(488.89,1544.50) scale(1.0387,1)" font-size="20.15" fill="#000">p = 0.043</text>
<text transform="translate(277.33,1629.90) scale(1.0477,1)" font-size="30.22" fill="#000">Black-RS</text>
<text transform="translate(69.20,1476.95) rotate(-90) scale(0.9978,1)" font-size="27.33" fill="#000">False alarm</text>
<text transform="translate(69.20,1346.48) rotate(-90) scale(1.1289,1)" font-size="20.50" fill="#000">(Black)</text>
<line x1="667.20" y1="1171.50" x2="667.20" y2="1570.80" stroke="#000" stroke-width="2.0" stroke-linecap="butt"/>
<line x1="666.20" y1="1569.80" x2="1142.50" y2="1569.80" stroke="#000" stroke-width="2.0" stroke-linecap="butt"/>
<line x1="667.20" y1="1490.34" x2="672.00" y2="1490.34" stroke="#000" stroke-width="2.0" stroke-linecap="butt"/>
<line x1="667.20" y1="1410.88" x2="672.00" y2="1410.88" stroke="#000" stroke-width="2.0" stroke-linecap="butt"/>
<line x1="667.20" y1="1331.42" x2="672.00" y2="1331.42" stroke="#000" stroke-width="2.0" stroke-linecap="butt"/>
<line x1="667.20" y1="1251.96" x2="672.00" y2="1251.96" stroke="#000" stroke-width="2.0" stroke-linecap="butt"/>
<line x1="667.20" y1="1172.50" x2="672.00" y2="1172.50" stroke="#000" stroke-width="2.0" stroke-linecap="butt"/>
<line x1="723.00" y1="1569.80" x2="723.00" y2="1564.80" stroke="#000" stroke-width="2.0" stroke-linecap="butt"/>
<line x1="778.80" y1="1569.80" x2="778.80" y2="1564.80" stroke="#000" stroke-width="2.0" stroke-linecap="butt"/>
<line x1="834.60" y1="1569.80" x2="834.60" y2="1564.80" stroke="#000" stroke-width="2.0" stroke-linecap="butt"/>
<line x1="890.40" y1="1569.80" x2="890.40" y2="1564.80" stroke="#000" stroke-width="2.0" stroke-linecap="butt"/>
<line x1="946.20" y1="1569.80" x2="946.20" y2="1564.80" stroke="#000" stroke-width="2.0" stroke-linecap="butt"/>
<line x1="1002.00" y1="1569.80" x2="1002.00" y2="1564.80" stroke="#000" stroke-width="2.0" stroke-linecap="butt"/>
<line x1="1057.80" y1="1569.80" x2="1057.80" y2="1564.80" stroke="#000" stroke-width="2.0" stroke-linecap="butt"/>
<line x1="1113.60" y1="1569.80" x2="1113.60" y2="1564.80" stroke="#000" stroke-width="2.0" stroke-linecap="butt"/>
<path d="M684.50,1342.75 L691.77,1342.33 L699.04,1341.89 L706.32,1341.42 L713.59,1340.93 L720.86,1340.40 L728.13,1339.85 L735.40,1339.25 L742.67,1338.62 L749.94,1337.94 L757.22,1337.22 L764.49,1336.45 L771.76,1335.62 L779.03,1334.73 L786.30,1333.78 L793.58,1332.75 L800.85,1331.65 L808.12,1330.47 L815.39,1329.19 L822.66,1327.82 L829.93,1326.35 L837.20,1324.78 L844.48,1323.08 L851.75,1321.27 L859.02,1319.34 L866.29,1317.28 L873.56,1315.09 L880.84,1312.77 L888.11,1310.32 L895.38,1307.75 L902.65,1305.04 L909.92,1302.22 L917.19,1299.27 L924.46,1296.21 L931.74,1293.05 L939.01,1289.79 L946.28,1286.43 L953.55,1282.98 L960.82,1279.46 L968.10,1275.85 L975.37,1272.18 L982.64,1268.44 L989.91,1264.65 L997.18,1260.80 L1004.45,1256.90 L1011.72,1252.95 L1019.00,1248.96 L1026.27,1244.94 L1033.54,1240.88 L1040.81,1236.78 L1048.08,1232.66 L1055.36,1228.51 L1062.63,1224.33 L1069.90,1220.13 L1077.17,1215.91 L1084.44,1211.66 L1091.71,1207.40 L1098.98,1203.13 L1106.26,1198.83 L1113.53,1194.52 L1120.80,1190.20 L1120.80,1363.00 L1113.53,1363.29 L1106.26,1363.60 L1098.98,1363.91 L1091.71,1364.25 L1084.44,1364.60 L1077.17,1364.97 L1069.90,1365.36 L1062.63,1365.78 L1055.36,1366.21 L1048.08,1366.67 L1040.81,1367.16 L1033.54,1367.68 L1026.27,1368.23 L1019.00,1368.82 L1011.72,1369.45 L1004.45,1370.12 L997.18,1370.83 L989.91,1371.59 L982.64,1372.41 L975.37,1373.29 L968.10,1374.23 L960.82,1375.24 L953.55,1376.32 L946.28,1377.49 L939.01,1378.75 L931.74,1380.10 L924.46,1381.55 L917.19,1383.10 L909.92,1384.77 L902.65,1386.56 L895.38,1388.47 L888.11,1390.50 L880.84,1392.67 L873.56,1394.96 L866.29,1397.39 L859.02,1399.94 L851.75,1402.62 L844.48,1405.42 L837.20,1408.34 L829.93,1411.38 L822.66,1414.52 L815.39,1417.77 L808.12,1421.11 L800.85,1424.54 L793.58,1428.05 L786.30,1431.64 L779.03,1435.30 L771.76,1439.02 L764.49,1442.81 L757.22,1446.65 L749.94,1450.54 L742.67,1454.48 L735.40,1458.46 L728.13,1462.47 L720.86,1466.53 L713.59,1470.62 L706.32,1474.74 L699.04,1478.88 L691.77,1483.06 L684.50,1487.25Z" fill="#dbeefa"/>
<line x1="684.50" y1="1415.00" x2="1120.80" y2="1276.60" stroke="#6ab2e0" stroke-width="2.2" stroke-linecap="butt"/>
<circle cx="709.05" cy="1271.82" r="3.8" fill="#8bc9f2" stroke="#74b4e2" stroke-width="0.7"/>
<circle cx="685.06" cy="1303.61" r="3.8" fill="#8bc9f2" stroke="#74b4e2" stroke-width="0.7"/>
<circle cx="781.59" cy="1303.61" r="3.8" fill="#8bc9f2" stroke="#74b4e2" stroke-width="0.7"/>
<circle cx="777.13" cy="1339.37" r="3.8" fill="#8bc9f2" stroke="#74b4e2" stroke-width="0.7"/>
<circle cx="842.97" cy="1339.37" r="3.8" fill="#8bc9f2" stroke="#74b4e2" stroke-width="0.7"/>
<circle cx="721.88" cy="1371.15" r="3.8" fill="#8bc9f2" stroke="#74b4e2" stroke-width="0.7"/>
<circle cx="849.67" cy="1371.15" r="3.8" fill="#8bc9f2" stroke="#74b4e2" stroke-width="0.7"/>
<circle cx="1120.85" cy="1204.28" r="3.8" fill="#8bc9f2" stroke="#74b4e2" stroke-width="0.7"/>
<circle cx="957.92" cy="1240.04" r="3.8" fill="#8bc9f2" stroke="#74b4e2" stroke-width="0.7"/>
<circle cx="965.73" cy="1240.04" r="3.8" fill="#8bc9f2" stroke="#74b4e2" stroke-width="0.7"/>
<circle cx="1087.93" cy="1240.04" r="3.8" fill="#8bc9f2" stroke="#74b4e2" stroke-width="0.7"/>
<circle cx="996.42" cy="1271.82" r="3.8" fill="#8bc9f2" stroke="#74b4e2" stroke-width="0.7"/>
<circle cx="1046.08" cy="1271.82" r="3.8" fill="#8bc9f2" stroke="#74b4e2" stroke-width="0.7"/>
<circle cx="961.27" cy="1339.37" r="3.8" fill="#8bc9f2" stroke="#74b4e2" stroke-width="0.7"/>
<circle cx="763.18" cy="1402.93" r="3.8" fill="#8bc9f2" stroke="#74b4e2" stroke-width="0.7"/>
<circle cx="776.01" cy="1438.69" r="3.8" fill="#8bc9f2" stroke="#74b4e2" stroke-width="0.7"/>
<circle cx="778.80" cy="1470.47" r="3.8" fill="#8bc9f2" stroke="#74b4e2" stroke-width="0.7"/>
<circle cx="878.12" cy="1470.47" r="3.8" fill="#8bc9f2" stroke="#74b4e2" stroke-width="0.7"/>
<circle cx="721.33" cy="1502.26" r="3.8" fill="#8bc9f2" stroke="#74b4e2" stroke-width="0.7"/>
<circle cx="880.91" cy="1569.80" r="3.8" fill="#8bc9f2" stroke="#74b4e2" stroke-width="0.7"/>
<circle cx="1023.76" cy="1402.93" r="3.8" fill="#8bc9f2" stroke="#74b4e2" stroke-width="0.7"/>
<circle cx="924.44" cy="1438.69" r="3.8" fill="#8bc9f2" stroke="#74b4e2" stroke-width="0.7"/>
<text transform="translate(651.64,1576.72) scale(0.93,1)" font-size="18.4" fill="#2a2a2a">0</text>
<text transform="translate(638.81,1497.26) scale(0.93,1)" font-size="18.4" fill="#2a2a2a">0.2</text>
<text transform="translate(638.81,1417.80) scale(0.93,1)" font-size="18.4" fill="#2a2a2a">0.4</text>
<text transform="translate(638.81,1338.34) scale(0.93,1)" font-size="18.4" fill="#2a2a2a">0.6</text>
<text transform="translate(638.81,1258.88) scale(0.93,1)" font-size="18.4" fill="#2a2a2a">0.8</text>
<text transform="translate(651.64,1179.42) scale(0.93,1)" font-size="18.4" fill="#2a2a2a">1</text>
<text transform="translate(660.07,1594.90) scale(0.93,1)" font-size="18.4" fill="#2a2a2a">-2</text>
<text transform="translate(715.87,1594.90) scale(0.93,1)" font-size="18.4" fill="#2a2a2a">-1</text>
<text transform="translate(774.52,1594.90) scale(0.93,1)" font-size="18.4" fill="#2a2a2a">0</text>
<text transform="translate(830.32,1594.90) scale(0.93,1)" font-size="18.4" fill="#2a2a2a">1</text>
<text transform="translate(886.12,1594.90) scale(0.93,1)" font-size="18.4" fill="#2a2a2a">2</text>
<text transform="translate(941.92,1594.90) scale(0.93,1)" font-size="18.4" fill="#2a2a2a">3</text>
<text transform="translate(997.72,1594.90) scale(0.93,1)" font-size="18.4" fill="#2a2a2a">4</text>
<text transform="translate(1053.52,1594.90) scale(0.93,1)" font-size="18.4" fill="#2a2a2a">5</text>
<text transform="translate(1109.32,1594.90) scale(0.93,1)" font-size="18.4" fill="#2a2a2a">6</text>
<text transform="translate(686.38,1198.30) scale(1.0556,1)" font-size="31.82" fill="#000">LATL</text>
<text transform="translate(1036.87,1519.90) scale(0.9747,1)" font-size="21.80" fill="#000">r = 0.428</text>
<text transform="translate(1035.79,1545.30) scale(0.9634,1)" font-size="21.65" fill="#000">p = 0.047</text>
<text transform="translate(840.13,1622.80) scale(1.0139,1)" font-size="31.22" fill="#000">Black-RS</text>
<text transform="translate(625.20,1473.95) rotate(-90) scale(0.9653,1)" font-size="28.09" fill="#000">False alarm</text>
<text transform="translate(625.20,1344.19) rotate(-90) scale(1.1406,1)" font-size="20.50" fill="#000">(Black)</text>
</svg></body></html>
